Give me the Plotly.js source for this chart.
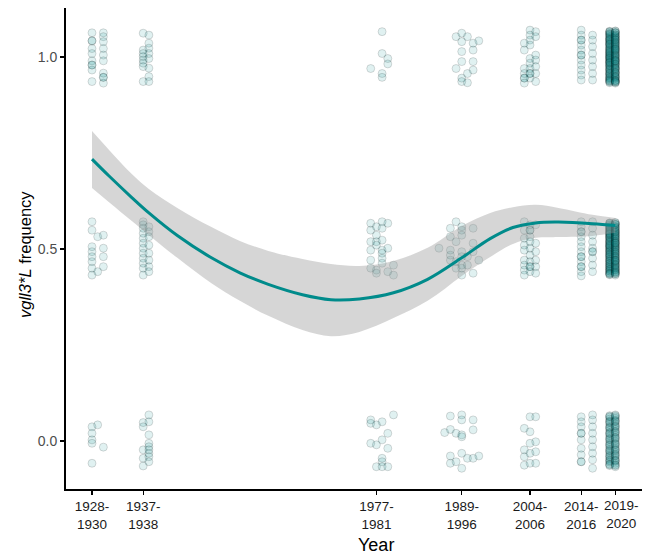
<!DOCTYPE html>
<html>
<head>
<meta charset="utf-8">
<script src="https://cdn.plot.ly/plotly-3.0.1.min.js"></script>
<style>html,body{margin:0;padding:0;background:#fff}#chart{width:649px;height:556px}</style>
</head>
<body>
<div id="chart"></div>
<script>
// ---- tick labels ----
const tickYears = [1928, 1937, 1978, 1993, 2005, 2014, 2020];
const tickLabels = ['1928-<br>1930', '1937-<br>1938', '1977-<br>1981', '1989-<br>1996', '2004-<br>2006', '2014-<br>2016', '2019-<br>2020'];
const yTickVals = [0, 0.5, 1];
const yTickLabels = ['0.0', '0.5', '1.0'];

// ---- jittered individual observations (frequency per individual), by sampling year ----
const freq1928 = [1.063,1.042,1.042,1.022,1.009,0.990,0.979,0.979,0.966,0.936, 0.571,0.549,0.506,0.493,0.480,0.467,0.450,0.432, 0.037,0.020,0.003,-0.006,-0.058];
const freq1929 = [0.532,0.441, 0.042];
const freq1930 = [1.063,1.053,1.040,1.022,1.005,0.990,0.958,0.947,0.947,0.932, 0.536,0.502,0.480,0.454, -0.016];
const freq1937 = [1.062,1.018,1.009,1.001,0.992,0.984,0.975,0.936, 0.571,0.563,0.554,0.541,0.528,0.515,0.502,0.489,0.476,0.463,0.450,0.432, 0.048,0.037,-0.023,-0.045,-0.065];
const freq1938 = [1.057,1.036,1.023,1.009,0.996,0.971,0.949,0.936, 0.558,0.545,0.532,0.510,0.489,0.471,0.454,0.441, 0.068,0.050,0.016,-0.006,-0.015,-0.023,-0.032,-0.041,-0.054];
const freq1977 = [0.970, 0.567,0.549,0.519,0.497,0.471,0.450, 0.055,0.046,-0.006];
const freq1978 = [0.558,0.536,0.519,0.510,0.445,0.437, 0.042,-0.010,-0.067];
const freq1979 = [1.066,1.009,0.957,0.947, 0.571,0.554,0.523,0.497,0.489,0.476,0.463, 0.050,0.003,-0.045,-0.054,-0.067];
const freq1980 = [0.996,0.982, 0.567,0.502,0.441, 0.020,-0.019,-0.067];
const freq1981 = [0.458,0.432, 0.068];
const freq1989 = [0.502];
const freq1990 = [0.022];
const freq1991 = [0.554,0.532,0.497,0.484,0.471, 0.065,0.030,-0.039,-0.058];
const freq1992 = [1.053,0.970, 0.571,0.519,0.467,0.450, 0.020,-0.054];
const freq1993 = [1.062,1.040,1.014,0.988,0.945,0.936, 0.558,0.549,0.536,0.493,0.480,0.458,0.450,0.432, 0.068,0.055,0.016,0.011,-0.032,-0.071];
const freq1994 = [1.053,0.957,0.933, 0.480,0.458, -0.045];
const freq1995 = [1.036,1.018,0.988,0.966, 0.554,0.515,0.493,0.437, 0.055,0.029,-0.045];
const freq1996 = [1.042, 0.471, -0.039];
const freq2004 = [1.036,1.018,0.970,0.957,0.945,0.945,0.932, 0.571,0.549,0.528,0.510,0.497,0.471,0.458,0.445,0.432, 0.033,-0.023,-0.041,-0.063];
const freq2005 = [1.070,1.057,1.044,1.031,0.996,0.984,0.970,0.957,0.957,0.945, 0.563,0.549,0.549,0.532,0.519,0.502,0.484,0.467,0.454,0.454,0.441, 0.063,0.024,-0.006,-0.032,-0.058];
const freq2006 = [1.066,1.053,1.005,0.992,0.975,0.957,0.936, 0.563,0.515,0.493,0.471,0.454,0.437, 0.063,-0.002,-0.028,-0.058];
const freq2014 = [1.070,1.057,1.044,1.044,1.031,1.018,1.005,1.005,0.992,0.979,0.966,0.953,0.940, 0.571,0.558,0.545,0.545,0.532,0.519,0.506,0.493,0.480,0.480,0.467,0.454,0.454,0.441,0.430, 0.063,0.050,0.037,0.020,0.020,0.003,-0.019,-0.036,-0.054,-0.054];
const freq2016 = [1.057,1.044,1.027,1.009,0.992,0.975,0.957,0.940, 0.571,0.554,0.536,0.519,0.502,0.493,0.493,0.476,0.458,0.441, 0.068,0.055,0.037,0.020,0.003,-0.015,-0.032,-0.049,-0.071];
const freq2019 = [1.067,1.065,1.060,1.059,1.054,1.049,1.048,1.043,1.041,1.036,1.033,1.032,1.026,1.022,1.020,1.016,1.011,1.009,1.005,1.002,0.998,0.997,0.991,0.987,0.986,0.980,0.977,0.975,0.969,0.966,0.964,0.958,0.955,0.953,0.947,0.944,0.942,0.937,0.935,0.933,
  1.066,1.062,1.057,1.052,1.046,1.044,1.038,1.034,1.029,1.024,1.018,1.014,1.007,1.003,0.996,0.993,0.989,0.983,0.978,0.972,0.968,0.961,0.957,0.950,0.946,0.940,0.938,1.000,1.012,0.985,
  0.568,0.566,0.561,0.558,0.555,0.551,0.548,0.545,0.541,0.538,0.534,0.531,0.527,0.524,0.520,0.517,0.512,0.509,0.506,0.502,0.499,0.495,0.492,0.488,0.485,0.481,0.477,0.474,0.470,0.467,0.463,0.460,0.456,0.452,0.449,0.446,0.442,0.439,0.436,0.433,
  0.567,0.563,0.557,0.553,0.547,0.543,0.537,0.532,0.529,0.522,0.518,0.514,0.507,0.503,0.497,0.493,0.487,0.483,0.479,0.472,0.468,0.462,0.457,0.453,0.447,0.443,0.437,0.434,0.510,0.540,
  0.066,0.062,0.057,0.052,0.048,0.043,0.037,0.033,0.028,0.022,0.018,0.013,0.008,0.003,-0.002,-0.007,-0.012,-0.017,-0.022,-0.027,-0.031,-0.036,-0.041,-0.046,-0.050,-0.055,-0.060,-0.064,
  0.064,0.050,0.035,0.020,0.005,-0.010,-0.025,-0.040,-0.052,-0.062];
const freq2020 = [1.068,1.063,1.062,1.057,1.053,1.051,1.046,1.044,1.039,1.037,1.034,1.029,1.025,1.023,1.018,1.014,1.012,1.007,1.004,1.000,0.995,0.993,0.989,0.984,0.982,0.979,0.973,0.971,0.968,0.962,0.959,0.957,0.951,0.948,0.946,0.940,0.939,0.936,0.934,0.932,
  1.067,1.064,1.058,1.054,1.049,1.045,1.041,1.035,1.031,1.027,1.021,1.016,1.010,1.005,1.001,0.997,0.991,0.987,0.981,0.976,0.970,0.966,0.960,0.955,0.949,0.944,0.938,0.935,1.020,0.990,
  0.569,0.564,0.563,0.557,0.553,0.550,0.546,0.543,0.539,0.536,0.533,0.529,0.525,0.522,0.518,0.514,0.511,0.507,0.504,0.500,0.497,0.493,0.490,0.486,0.483,0.479,0.476,0.472,0.468,0.465,0.461,0.458,0.454,0.451,0.447,0.444,0.441,0.438,0.435,0.432,
  0.568,0.565,0.559,0.555,0.548,0.544,0.540,0.535,0.530,0.526,0.520,0.516,0.510,0.505,0.501,0.496,0.491,0.487,0.481,0.477,0.471,0.466,0.460,0.456,0.450,0.446,0.440,0.436,0.515,0.470,
  0.068,0.063,0.059,0.054,0.050,0.045,0.040,0.035,0.030,0.025,0.020,0.015,0.010,0.005,0.000,-0.005,-0.010,-0.015,-0.020,-0.025,-0.030,-0.034,-0.039,-0.044,-0.049,-0.053,-0.058,-0.062,-0.067,
  0.066,0.052,0.038,0.023,0.008,-0.008,-0.023,-0.037,-0.051,-0.064];

const sampleYears = [1928,1929,1930,1937,1938,1977,1978,1979,1980,1981,1989,1990,1991,1992,1993,1994,1995,1996,2004,2005,2006,2014,2016,2019,2020];
const sampleFreqs = [freq1928,freq1929,freq1930,freq1937,freq1938,freq1977,freq1978,freq1979,freq1980,freq1981,freq1989,freq1990,freq1991,freq1992,freq1993,freq1994,freq1995,freq1996,freq2004,freq2005,freq2006,freq2014,freq2016,freq2019,freq2020];

// ---- fitted smooth and confidence band ----
const smoothYear = [1928,1931,1935,1938,1943,1949,1954,1959,1965,1970,1975,1981,1987,1993,1998,2002,2006,2010,2016,2020];
const smoothFit  = [0.734,0.690,0.634,0.594,0.535,0.477,0.438,0.408,0.381,0.368,0.370,0.386,0.421,0.477,0.527,0.556,0.568,0.570,0.566,0.561];
const smoothLow  = [0.659,0.622,0.573,0.536,0.477,0.411,0.365,0.326,0.289,0.273,0.284,0.320,0.365,0.430,0.479,0.513,0.529,0.531,0.534,0.542];
const smoothHigh = [0.807,0.758,0.695,0.656,0.607,0.557,0.521,0.495,0.474,0.461,0.456,0.469,0.503,0.560,0.594,0.609,0.615,0.607,0.589,0.581];

// ---- build traces ----
const px = [], py = [];
sampleYears.forEach((yr, i) => {
  sampleFreqs[i].forEach(v => { px.push(yr); py.push(v); });
});

const teal = '#008B8B';
const traces = [
  {
    type: 'scatter', mode: 'markers', x: px, y: py, hoverinfo: 'skip',
    marker: { size: 8, color: 'rgba(0,139,139,0.12)', line: { color: 'rgba(0,0,0,0.14)', width: 1 } }
  },
  {
    type: 'scatter', mode: 'lines', x: smoothYear, y: smoothLow, hoverinfo: 'skip',
    line: { width: 0, shape: 'spline', smoothing: 1 }
  },
  {
    type: 'scatter', mode: 'lines', x: smoothYear, y: smoothHigh, hoverinfo: 'skip',
    line: { width: 0, shape: 'spline', smoothing: 1 },
    fill: 'tonexty', fillcolor: 'rgba(153,153,153,0.4)'
  },
  {
    type: 'scatter', mode: 'lines', x: smoothYear, y: smoothFit, hoverinfo: 'skip',
    line: { color: teal, width: 3, shape: 'spline', smoothing: 1 }
  }
];

// last tick label drawn as an annotation so it can sit slightly right of its tick, as in the reference
const lastIdx = tickYears.length - 1;
const tickTextShown = tickLabels.map((t, i) => (i === lastIdx ? '' : t));

const font = 'Liberation Sans, Arial, sans-serif';
const layout = {
  width: 649, height: 556,
  margin: { l: 66, r: 7, t: 8, b: 67, pad: 0 },
  paper_bgcolor: '#fff', plot_bgcolor: '#fff',
  showlegend: false,
  font: { family: font, color: '#000' },
  xaxis: {
    range: [1923.43, 2024.69],
    tickmode: 'array', tickvals: tickYears, ticktext: tickTextShown, tickangle: 0,
    showline: true, linecolor: '#000', linewidth: 2,
    ticks: 'outside', ticklen: 4, tickwidth: 1.2, tickcolor: '#000',
    showgrid: false, zeroline: false,
    tickfont: { family: font, size: 13.5, color: '#1a1a1a' }
  },
  yaxis: {
    range: [-0.125, 1.1276],
    tickmode: 'array', tickvals: yTickVals, ticktext: yTickLabels,
    showline: true, linecolor: '#000', linewidth: 2,
    ticks: 'outside', ticklen: 4, tickwidth: 1.2, tickcolor: '#000',
    showgrid: false, zeroline: false,
    tickfont: { family: font, size: 14, color: '#4d4d4d' }
  },
  annotations: [
    { text: tickLabels[lastIdx], xref: 'x', yref: 'paper', x: tickYears[lastIdx], xshift: 6,
      y: -0.0165, xanchor: 'center', yanchor: 'top', showarrow: false, borderpad: 0,
      font: { family: font, size: 13.5, color: '#1a1a1a' } },
    { text: 'Year', xref: 'paper', yref: 'paper', x: 0.5385, y: -0.1164,
      xanchor: 'center', yanchor: 'middle', showarrow: false,
      font: { family: font, size: 18, color: '#000' } },
    { text: '<i>vgll3*L</i> frequency', xref: 'paper', yref: 'paper', x: -0.0712, y: 0.4886,
      xanchor: 'center', yanchor: 'middle', showarrow: false, textangle: -90,
      font: { family: font, size: 16.5, color: '#000' } }
  ]
};

Plotly.newPlot('chart', traces, layout, { displayModeBar: false, staticPlot: true });
</script>
</body>
</html>
